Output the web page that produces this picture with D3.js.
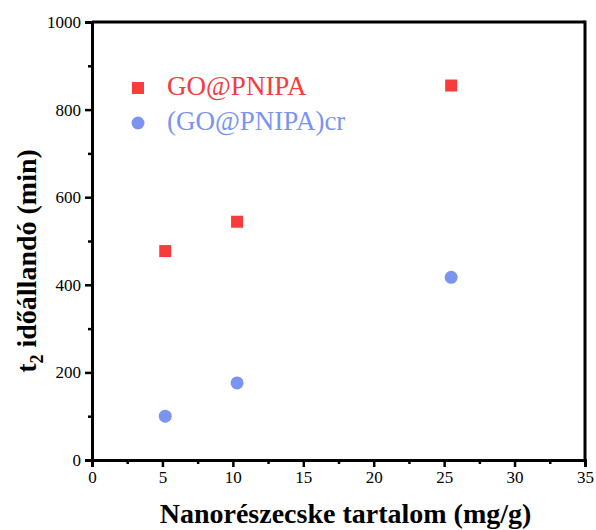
<!DOCTYPE html>
<html>
<head>
<meta charset="utf-8">
<script src="https://cdn.jsdelivr.net/npm/d3@7"></script>
<style>
    body { margin: 0; background: #fff; }
    svg { display: block; }
    text { font-family: "Liberation Serif", "Times New Roman", serif; }
</style>
</head>
<body>
<div id="chart"></div>
<script>
// nanoparticle content (mg/g)
const contents = [5.2, 10.3, 25.5];
// t2 time constants (min)
const tGO = [477, 544, 855];
const tGOcr = [100, 176, 417];

const seriesNames = ["GO@PNIPA", "(GO@PNIPA)cr"];
const xTicks = [0, 5, 10, 15, 20, 25, 30, 35];
const yTicks = [0, 200, 400, 600, 800, 1000];

const width = 596, height = 530;
const margin = { top: 22, right: 11, bottom: 70, left: 92 };
const w = width - margin.left - margin.right;
const h = height - margin.top - margin.bottom;

const red = "#f83b3b", blue = "#7b94f0";

let svg = d3.select("#chart")
            .append("svg")
            .attr("width", width)
            .attr("height", height)
            .append("g")
            .attr("transform", `translate(${margin.left}, ${margin.top})`);

let x = d3.scaleLinear().domain([0, 35]).range([0, w]);
let y = d3.scaleLinear().domain([0, 1000]).range([h, 0]);

// minor ticks first, majors on top
let xMinor = d3.axisBottom(x)
               .tickValues(d3.range(2.5, 35, 5))
               .tickSize(4)
               .tickFormat("");
let yMinor = d3.axisLeft(y)
               .tickValues(d3.range(100, 1000, 200))
               .tickSize(4)
               .tickFormat("");

svg.append("g").attr("class", "minor").attr("transform", `translate(0, ${h})`).call(xMinor);
svg.append("g").attr("class", "minor").call(yMinor);

let xAxis = d3.axisBottom(x)
              .tickValues(xTicks)
              .tickSize(7)
              .tickPadding(4)
              .tickFormat(d3.format("d"));
let yAxis = d3.axisLeft(y)
              .tickValues(yTicks)
              .tickSize(7)
              .tickPadding(4)
              .tickFormat(d3.format("d"));

svg.append("g").attr("class", "axis").attr("transform", `translate(0, ${h})`).call(xAxis);
svg.append("g").attr("class", "axis").call(yAxis);

svg.selectAll(".axis, .minor").attr("font-family", null);
svg.selectAll(".axis text")
   .style("font-family", "'Liberation Serif', serif")
   .style("font-size", "17px")
   .attr("fill", "#000");
svg.selectAll(".minor .domain").remove();
svg.selectAll(".axis .domain").attr("stroke-width", 3).attr("stroke", "#000");
svg.selectAll(".axis .tick line, .minor .tick line").attr("stroke-width", 2.5).attr("stroke", "#000");

// frame: top and right
svg.append("line")
   .attr("x1", 0).attr("x2", w).attr("y1", 0).attr("y2", 0)
   .attr("stroke", "#000").attr("stroke-width", 3);
svg.append("line")
   .attr("x1", w).attr("x2", w).attr("y1", -1.5).attr("y2", h)
   .attr("stroke", "#000").attr("stroke-width", 3);

// GO@PNIPA squares
let sq = 12;
svg.append("g")
   .selectAll("rect")
   .data(contents.map((c, i) => ({ x: c, y: tGO[i] })))
   .join("rect")
   .attr("x", d => x(d.x) - sq / 2)
   .attr("y", d => y(d.y) - sq / 2)
   .attr("width", sq)
   .attr("height", sq)
   .attr("fill", red);

// (GO@PNIPA)cr circles
svg.append("g")
   .selectAll("circle")
   .data(contents.map((c, i) => ({ x: c, y: tGOcr[i] })))
   .join("circle")
   .attr("cx", d => x(d.x))
   .attr("cy", d => y(d.y))
   .attr("r", 6.5)
   .attr("fill", blue);

// legend
let legend = svg.append("g").attr("transform", "translate(46, 66)");
legend.append("rect")
      .attr("x", -6).attr("y", -6)
      .attr("width", sq).attr("height", sq)
      .attr("fill", red);
legend.append("circle")
      .attr("cx", 0).attr("cy", 35)
      .attr("r", 6.5)
      .attr("fill", blue);
legend.append("text")
      .attr("x", 29).attr("y", 7)
      .style("font-size", "27px")
      .attr("fill", red)
      .text(seriesNames[0]);
legend.append("text")
      .attr("x", 29).attr("y", 42)
      .style("font-size", "27px")
      .attr("fill", blue)
      .text(seriesNames[1]);

// axis titles
svg.append("text")
   .attr("x", w / 2 + 7)
   .attr("y", h + 63)
   .attr("text-anchor", "middle")
   .style("font-size", "28px")
   .style("font-weight", "bold")
   .text("Nanorészecske tartalom (mg/g)");

let yt = svg.append("text")
   .attr("transform", `translate(${-56}, ${239}) rotate(-90)`)
   .attr("text-anchor", "middle")
   .style("font-size", "28px")
   .style("font-weight", "bold");
yt.append("tspan").text("t");
yt.append("tspan").attr("dy", 7).style("font-size", "18px").text("2");
yt.append("tspan").attr("dy", -7).text(" időállandó (min)");
</script>
</body>
</html>
